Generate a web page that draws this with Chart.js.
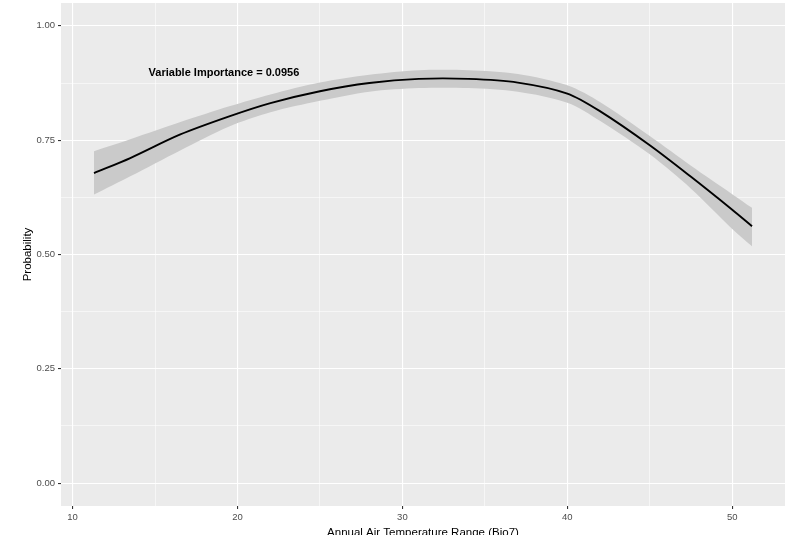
<!DOCTYPE html>
<html>
<head>
<meta charset="utf-8">
<title>Probability vs Annual Air Temperature Range</title>
<script src="https://cdn.jsdelivr.net/npm/chart.js@4/dist/chart.umd.min.js"></script>
<style>
    html, body { margin: 0; padding: 0; background: #ffffff; }
    #wrap { width: 801px; height: 535px; }
</style>
</head>
<body>
<div id="wrap"><canvas id="myChart" width="801" height="535"></canvas></div>
<script>
"use strict";
// values
var temps     = [11.3, 13.5, 16.5, 19.5, 22, 25, 28, 31, 34, 37, 40, 42, 45, 47.5, 50, 51.2];
var prob      = [0.678, 0.711, 0.762, 0.802, 0.831, 0.857, 0.875, 0.884, 0.884, 0.876, 0.852, 0.813, 0.739, 0.670, 0.598, 0.562];
var probUpper = [0.726, 0.752, 0.789, 0.824, 0.850, 0.876, 0.893, 0.903, 0.903, 0.895, 0.870, 0.833, 0.759, 0.694, 0.632, 0.602];
var probLower = [0.631, 0.671, 0.727, 0.780, 0.811, 0.836, 0.856, 0.864, 0.864, 0.856, 0.832, 0.792, 0.719, 0.644, 0.556, 0.518];
var xTicks = [10, 15, 20, 25, 30, 35, 40, 45, 50];
var xMajor = [10, 20, 30, 40, 50];
var yTicks = [0, 0.125, 0.25, 0.375, 0.5, 0.625, 0.75, 0.875, 1];
var yMajor = [0, 0.25, 0.5, 0.75, 1];
var note = "Variable Importance = 0.0956";
var noteAt = { x: 19.18, y: 0.897 };

(function () {
    var fontFamily = "'Liberation Sans', Arial, sans-serif";

    function points(ys) {
        return temps.map(function (t, i) { return { x: t, y: ys[i] }; });
    }

    function isMajor(list, v) {
        return list.some(function (m) { return Math.abs(m - v) < 1e-9; });
    }

    var panelBg = {
        id: "panelBg",
        beforeDraw: function (chart) {
            var a = chart.chartArea;
            var c = chart.ctx;
            c.save();
            c.fillStyle = "#ebebeb";
            c.fillRect(a.left, a.top, a.right - a.left, a.bottom - a.top);
            c.restore();
        }
    };

    var noteLabel = {
        id: "noteLabel",
        afterDatasetsDraw: function (chart) {
            var c = chart.ctx;
            c.save();
            c.font = "bold 11px " + fontFamily;
            c.fillStyle = "#000000";
            c.textAlign = "center";
            c.textBaseline = "middle";
            c.fillText(note, chart.scales.x.getPixelForValue(noteAt.x), chart.scales.y.getPixelForValue(noteAt.y));
            c.restore();
        }
    };

    var ctx = document.getElementById("myChart").getContext("2d");
    // chart.js paints dataset 0 last, so the fitted line goes first
    var chart = new Chart(ctx, {
        type: "line",
        data: {
            datasets: [{
                label: "Probability",
                data: points(prob),
                borderColor: "#000000",
                borderWidth: 1.9,
                pointRadius: 0,
                fill: false,
                tension: 0.3
            },
                {
                    label: "upper",
                    data: points(probUpper),
                    borderWidth: 0,
                    pointRadius: 0,
                    backgroundColor: "#cacaca",
                    fill: "+1",
                    tension: 0.3
                },
                {
                    label: "lower",
                    data: points(probLower),
                    borderWidth: 0,
                    pointRadius: 0,
                    fill: false,
                    tension: 0.3
                }]
        },
        options: {
            responsive: false,
            animation: false,
            events: [],
            layout: { padding: { top: 3, right: 16, left: 0, bottom: 0 } },
            plugins: {
                legend: { display: false },
                tooltip: { enabled: false }
            },
            scales: {
                x: {
                    type: "linear",
                    min: 9.3,
                    max: 53.2,
                    afterBuildTicks: function (scale) {
                        scale.ticks = xTicks.map(function (v) { return { value: v }; });
                    },
                    afterFit: function (scale) {
                        scale.height = 29;
                        scale.paddingLeft = 0;
                        scale.paddingRight = 0;
                    },
                    border: { display: false },
                    grid: {
                        color: "#ffffff",
                        lineWidth: function (c) { return isMajor(xMajor, c.tick.value) ? 1.1 : 0.55; },
                        tickColor: function (c) { return isMajor(xMajor, c.tick.value) ? "#333333" : "rgba(0,0,0,0)"; },
                        tickLength: 3
                    },
                    ticks: {
                        autoSkip: false,
                        maxRotation: 0,
                        padding: 3,
                        color: "#4d4d4d",
                        font: { family: fontFamily, size: 9.5 },
                        callback: function (v) { return isMajor(xMajor, v) ? String(v) : ""; }
                    },
                    title: {
                        display: true,
                        text: "Annual Air Temperature Range (Bio7)",
                        color: "#000000",
                        font: { family: fontFamily, size: 11.5 },
                        padding: { top: 0, bottom: -5 }
                    }
                },
                y: {
                    min: -0.05,
                    max: 1.05,
                    afterBuildTicks: function (scale) {
                        scale.ticks = yTicks.map(function (v) { return { value: v }; });
                    },
                    afterFit: function (scale) {
                        scale.width = 61;
                        scale.paddingTop = 0;
                        scale.paddingBottom = 0;
                    },
                    border: { display: false },
                    grid: {
                        color: "#ffffff",
                        lineWidth: function (c) { return isMajor(yMajor, c.tick.value) ? 1.1 : 0.55; },
                        tickColor: function (c) { return isMajor(yMajor, c.tick.value) ? "#333333" : "rgba(0,0,0,0)"; },
                        tickLength: 3
                    },
                    ticks: {
                        autoSkip: false,
                        padding: 3,
                        color: "#4d4d4d",
                        font: { family: fontFamily, size: 9.5 },
                        callback: function (v) { return isMajor(yMajor, v) ? v.toFixed(2) : ""; }
                    },
                    title: {
                        display: true,
                        text: "Probability",
                        color: "#000000",
                        font: { family: fontFamily, size: 11.5 },
                        padding: { top: 21, bottom: 0 }
                    }
                }
            }
        },
        plugins: [panelBg, noteLabel]
    });
})();
</script>
</body>
</html>
